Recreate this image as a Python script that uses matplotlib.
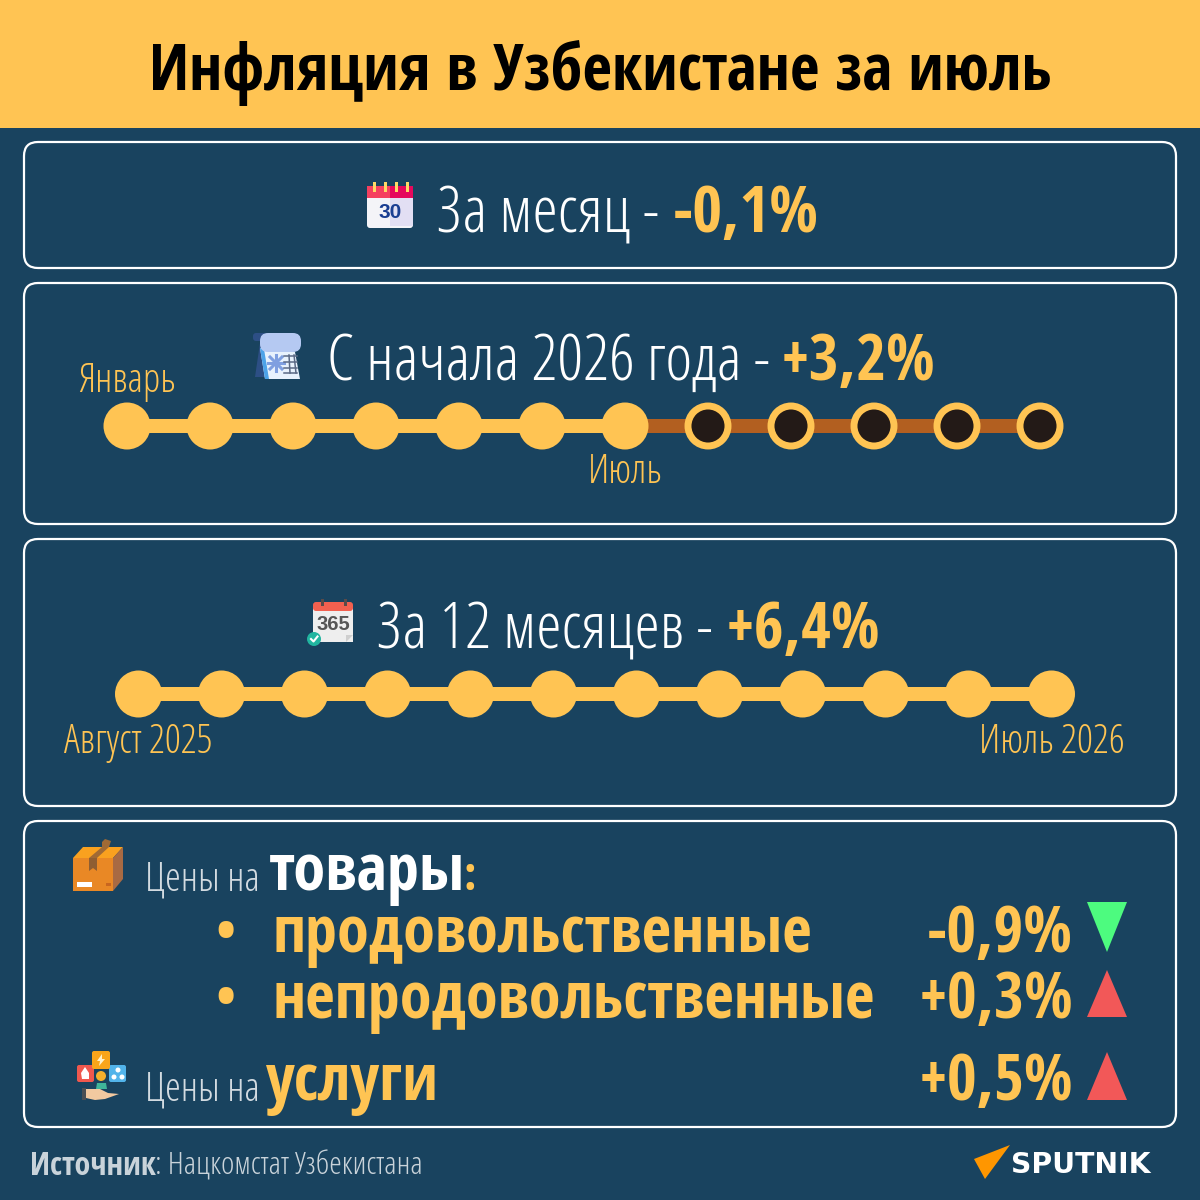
import matplotlib
matplotlib.use("Agg")
import matplotlib.pyplot as plt
from matplotlib import font_manager as fm
from matplotlib.patches import Rectangle, FancyBboxPatch, Polygon, Circle

# данные
title = "Инфляция в Узбекистане за июль"
month_value = "-0,1%"
ytd_value = "+3,2%"
yoy_value = "+6,4%"
months_ytd = ["Январь", "", "", "", "", "", "Июль", "", "", "", "", ""]
passed_ytd = [1, 1, 1, 1, 1, 1, 1, 0, 0, 0, 0, 0]
months_yoy = ["Август 2025", "", "", "", "", "", "", "", "", "", "", "Июль 2026"]
goods_labels = ["продовольственные", "непродовольственные"]
goods_values = ["-0,9%", "+0,3%"]
goods_up = [False, True]
services_value = "+0,5%"

BG = "#19435f"
YEL = "#ffc453"
names = {f.name for f in fm.fontManager.ttflist}
BOLD = "Open Sans Condensed" if "Open Sans Condensed" in names else "Liberation Sans"

fig = plt.figure(figsize=(12, 12), dpi=100, facecolor=BG)
ax = fig.add_axes([0, 0, 1, 1])
ax.set_xlim(0, 1200)
ax.set_ylim(1200, 0)
ax.axis("off")


def txt(x, y, s, size, color="white", ha="left", bold=False):
    # y - базовая линия
    if bold:
        return ax.text(x, y, s, fontsize=size, color=color, ha=ha, va="baseline",
                       family=BOLD, fontweight="bold", zorder=8)
    # тонкое начертание лежит в семействе Open Sans
    return ax.text(x, y, s, fontsize=size, color=color, ha=ha, va="baseline",
                   family="Open Sans", fontweight=300, fontstretch="condensed", zorder=8)


def rect(x, y, w, h, c, z=3):
    ax.add_patch(Rectangle((x, y), w, h, fc=c, ec="none", zorder=z))


def rbox(x, y, w, h, c, r=4, z=3, ec="none", lw=0):
    ax.add_patch(FancyBboxPatch((x + r, y + r), w - 2 * r, h - 2 * r,
                                boxstyle=f"round,pad={r},rounding_size={r}",
                                fc=c, ec=ec, lw=lw, zorder=z))


def poly(pts, c, z=3):
    ax.add_patch(Polygon(pts, closed=True, fc=c, ec="none", zorder=z))


def timeline(x0, y, passed):
    step = 83
    n = len(passed)
    for i in range(n - 1):
        col = YEL if passed[i + 1] else "#b25f20"
        rect(x0 + i * step, y - 7, step, 14, col, z=2)
    for i, p in enumerate(passed):
        if p:
            ax.add_patch(Circle((x0 + i * step, y), 23.5, fc=YEL, ec="none", zorder=3))
        else:
            ax.add_patch(Circle((x0 + i * step, y), 20, fc="#231a17", ec=YEL, lw=5, zorder=3))


# шапка
rect(0, 0, 1200, 128, YEL, z=1)
txt(600, 90, title, 46.2, color="black", ha="center", bold=True)

# рамки
for y, h in [(142, 126), (283, 241), (539, 267), (821, 306)]:
    rbox(24, y, 1152, h, "none", r=14, z=1, ec="white", lw=1.6)

# за месяц
t_size = 46.4
v_size = 46.3
l_size = 28.6
txt(437, 232, "За месяц - ", t_size)
txt(673, 232, month_value, v_size, color=YEL, bold=True)

# календарь 30
rbox(367, 186, 46, 42, "#f4f4f8", r=3)
rect(390, 198, 23, 28, "#e2dff3", z=3)
rect(367, 186, 23, 12, "#f5405f", z=4)
rect(390, 186, 23, 12, "#e5085c", z=4)
for x in [373, 384, 395, 406]:
    rect(x, 182, 2.5, 10, "#ffd966", z=5)
ax.text(390, 213, "30", fontsize=15, color="#1b3f92", ha="center", va="center",
        fontweight="bold", zorder=6, family="Liberation Sans")

# с начала года
txt(327, 380, "С начала 2026 года - ", t_size)
txt(781, 380, ytd_value, v_size, color=YEL, bold=True)
x_ytd = 127
timeline(x_ytd, 426, passed_ytd)
for i, m in enumerate(months_ytd):
    if m:
        txt(x_ytd + i * 83, 392 if i == 0 else 483, m, l_size, color=YEL, ha="center")

# свиток
poly([(260, 343), (255, 377), (265, 377), (266, 350)], "#2d4f85")
poly([(260, 348), (295, 352), (300, 379), (265, 379)], "#e8f2fd", z=5)
poly([(260, 348), (265, 379), (269, 379), (264, 349)], "#4da3e8", z=6)
rbox(260, 333, 41, 19, "#b5c9f2", r=8, z=6)
rbox(253, 333, 14, 8, "#2d4f85", r=3, z=5)
for dx, dy in [(8, 0), (0, 8), (6, 6), (6, -6)]:
    ax.plot([276 - dx, 276 + dx], [363 - dy, 363 + dy], color="#7f9fe0", lw=2.2, zorder=7)
for yy in [356, 362, 368, 373]:
    ax.plot([284, 297], [yy, yy], color="#5b6a86", lw=1.1, zorder=7)
ax.plot([289, 290], [355, 373], color="#5b6a86", lw=1.1, zorder=7)
ax.plot([294, 296], [355, 373], color="#5b6a86", lw=1.1, zorder=7)

# за 12 месяцев
txt(377, 648, "За 12 месяцев - ", t_size)
txt(726, 648, yoy_value, v_size, color=YEL, bold=True)
x_yoy = 138.5
timeline(x_yoy, 694, [1] * 12)
for i, m in enumerate(months_yoy):
    if m:
        txt(x_yoy + i * 83, 753, m, l_size, color=YEL, ha="center")

# календарь 365
rect(313, 607, 40, 35, "#eeeeee")
rbox(313, 602, 40, 9, "#f2604f", r=3, z=4)
poly([(346, 642), (353, 635), (346, 635)], "#cfcfcf", z=5)
for x in [321, 344]:
    rect(x, 599, 2.5, 7, "#5a4a48", z=5)
ax.text(333, 624, "365", fontsize=14.5, color="#555555", ha="center", va="center",
        fontweight="bold", zorder=6, family="Liberation Sans")
ax.add_patch(Circle((314, 639), 7, fc="#21b5a0", ec="none", zorder=6))
ax.plot([311, 313.5, 317.5], [639, 641.5, 636.5], color="white", lw=1.5, zorder=7)

# коробка
poly([(73, 858), (83, 847), (123, 847), (113, 858)], "#f9a11f")
rect(73, 858, 40, 33, "#e98825")
poly([(113, 858), (123, 847), (123, 879), (113, 891)], "#a86a43")
poly([(89, 858), (97, 858), (109, 847), (102, 847)], "#a06a35", z=4)
poly([(89, 858), (97, 858), (97, 871), (93, 868), (89, 871)], "#8f5e32", z=4)
poly([(102, 847), (102, 842), (105, 839), (111, 841), (109, 847)], "#a06a35", z=4)
rect(77, 882, 15, 5, "white", z=4)
rect(106, 883, 5, 3, "#c9661f", z=4)

# услуги
rbox(77, 1065, 17, 17, "#f0584e", r=2)
rbox(92, 1051, 18, 18, "#f9a51a", r=2, z=4)
rbox(109, 1065, 17, 17, "#52b4ea", r=2)
poly([(85, 1067), (89, 1073), (89, 1079), (82, 1079), (81, 1073)], "white", z=5)
poly([(102, 1054), (97, 1061), (100, 1061), (99, 1066), (105, 1059), (102, 1059)], "#fff1c9", z=5)
for cx, cy in [(118, 1070), (114, 1077), (122, 1077)]:
    ax.add_patch(Circle((cx, cy), 2.5, fc="white", ec="none", zorder=5))
ax.add_patch(Circle((101, 1076), 5, fc="#f5b02c", ec="none", zorder=6))
poly([(96, 1089), (107, 1089), (106, 1083), (97, 1083)], "#3fb59a", z=6)
poly([(86, 1089), (100, 1089), (108, 1093), (119, 1094), (105, 1099), (95, 1100), (86, 1098)], "#f2c9a0", z=7)
rect(82, 1088, 4, 12, "#4a4f54", z=7)

# товары
gray = "#d3dbe1"
txt(145, 890, "Цены на", l_size, color=gray)
txt(269, 890, "товары", 46.5, bold=True)
txt(463, 890, ":", 34, color=YEL, bold=True)
row_y = [952, 1018]
tri_x = 1107
for label, val, up, y in zip(goods_labels, goods_values, goods_up, row_y):
    txt(225, y - 2, "•", 40, color=YEL, ha="center", bold=True)
    txt(273, y, label, 46.3, color=YEL, bold=True)
    txt(1073, y, val, v_size, color=YEL, ha="right", bold=True)
    if up:
        poly([(tri_x, y - 48), (tri_x + 20, y - 1), (tri_x - 20, y - 1)], "#f25858")
    else:
        poly([(tri_x - 20, y - 50), (tri_x + 20, y - 50), (tri_x, y)], "#4dfb7f")

# услуги строка
txt(145, 1101, "Цены на", l_size, color=gray)
txt(266, 1100, "услуги", 46.5, color=YEL, bold=True)
txt(1073, 1100, services_value, v_size, color=YEL, ha="right", bold=True)
poly([(tri_x, 1052), (tri_x + 20, 1100), (tri_x - 20, 1100)], "#f25858")

# подвал
txt(30, 1175, "Источник", 23, color="#c9d3da", bold=True)
txt(155, 1175, ": Нацкомстат Узбекистана", 23, color="#c9d3da")
poly([(1010, 1145), (985, 1179), (974, 1159)], "#ff9600")
ax.text(1011, 1173, "SPUTNIK", fontsize=20.3, color="white", ha="left", va="baseline",
        fontweight="bold", family="DejaVu Sans")

fig.savefig("out.png", dpi=100, facecolor=BG)
